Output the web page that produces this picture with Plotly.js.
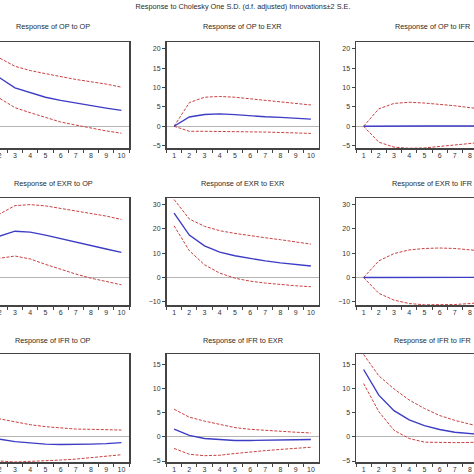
<!DOCTYPE html>
<html>
<head>
<meta charset="utf-8">
<script src="https://cdn.plot.ly/plotly-3.0.1.min.js"></script>
<style>
html,body{margin:0;padding:0;width:474px;height:474px;overflow:hidden;background:#fff;}
#chart{position:absolute;left:-40px;top:0;width:560px;height:474px;}
</style>
</head>
<body>
<div id="chart"></div>
<script>
// ---- data ----
const periods = ['1','2','3','4','5','6','7','8','9','10'];

const opOpResp  = [11.5, 12.5, 9.9, 8.6, 7.5, 6.7, 6.0, 5.3, 4.7, 4.1];
const opOpUpper = [13.4, 17.6, 15.5, 14.4, 13.6, 12.8, 12.1, 11.5, 10.9, 10.1];
const opOpLower = [9.6, 7.3, 4.8, 3.5, 2.2, 1.1, 0.3, -0.5, -1.2, -1.8];

const opExrResp  = [0, 2.4, 3.05, 3.2, 3.0, 2.7, 2.45, 2.3, 2.0, 1.85];
const opExrUpper = [0, 6.1, 7.5, 7.7, 7.5, 7.1, 6.7, 6.35, 5.9, 5.5];
const opExrLower = [0, -1.3, -1.3, -1.3, -1.35, -1.45, -1.5, -1.6, -1.7, -1.85];

const opIfrResp  = [0, 0.05, 0.05, 0.05, 0.05, 0.05, 0.05, 0.05, 0.05, 0.05];
const opIfrUpper = [0, 4.5, 5.9, 6.2, 6.0, 5.7, 5.3, 4.8, 4.4, 4.0];
const opIfrLower = [0, -4.1, -5.4, -5.7, -5.6, -5.25, -4.9, -4.5, -4.1, -3.7];

const exrOpResp  = [11.0, 17.0, 19.0, 18.6, 17.4, 15.9, 14.4, 13.1, 11.7, 10.3];
const exrOpUpper = [16.0, 26.1, 29.5, 29.9, 29.4, 28.4, 27.5, 26.4, 25.2, 23.8];
const exrOpLower = [6.0, 7.9, 8.8, 7.6, 5.4, 3.3, 1.4, -0.3, -1.6, -3.0];

const exrExrResp  = [26.4, 17.4, 13.0, 10.4, 8.9, 7.8, 6.8, 6.0, 5.3, 4.7];
const exrExrUpper = [32.0, 24.0, 21.0, 19.2, 18.1, 17.1, 16.3, 15.5, 14.7, 13.7];
const exrExrLower = [21.2, 11.0, 5.2, 1.8, -0.3, -1.5, -2.3, -3.0, -3.4, -3.8];

const exrIfrResp  = [0, 0.05, 0.05, 0.05, 0.05, 0.05, 0.05, 0.05, 0.05, 0.05];
const exrIfrUpper = [0, 6.8, 9.8, 11.3, 11.9, 12.1, 11.9, 11.4, 10.8, 10.2];
const exrIfrLower = [0, -6.5, -9.3, -10.7, -11.2, -11.3, -11.1, -10.7, -10.2, -9.6];

const ifrOpResp  = [0.3, -0.5, -1.0, -1.3, -1.5, -1.6, -1.6, -1.5, -1.4, -1.2];
const ifrOpUpper = [4.0, 3.7, 3.1, 2.5, 2.1, 1.8, 1.6, 1.55, 1.5, 1.4];
const ifrOpLower = [-3.4, -5.0, -5.2, -5.1, -5.0, -4.8, -4.6, -4.35, -4.1, -3.7];

const ifrExrResp  = [1.6, 0.3, -0.35, -0.6, -0.75, -0.75, -0.75, -0.7, -0.6, -0.55];
const ifrExrUpper = [5.7, 4.05, 3.25, 2.5, 1.9, 1.55, 1.3, 1.1, 0.95, 0.8];
const ifrExrLower = [-2.4, -3.6, -3.9, -3.8, -3.45, -3.1, -2.85, -2.6, -2.35, -2.15];

const ifrIfrResp  = [13.9, 8.6, 5.4, 3.5, 2.3, 1.5, 0.95, 0.6, 0.4, 0.3];
const ifrIfrUpper = [17.0, 12.6, 9.9, 7.6, 5.85, 4.4, 3.4, 2.6, 2.0, 1.5];
const ifrIfrLower = [11.0, 5.2, 1.35, -0.35, -1.1, -1.2, -1.2, -1.15, -1.1, -1.0];

const panelTitles = [
  'Response of OP to OP','Response of OP to EXR','Response of OP to IFR',
  'Response of EXR to OP','Response of EXR to EXR','Response of EXR to IFR',
  'Response of IFR to OP','Response of IFR to EXR','Response of IFR to IFR'
];
const mainTitle = 'Response to Cholesky One S.D. (d.f. adjusted) Innovations\u00b12 S.E.';

// ---- build ----
const panels = [
  [opOpResp, opOpUpper, opOpLower], [opExrResp, opExrUpper, opExrLower], [opIfrResp, opIfrUpper, opIfrLower],
  [exrOpResp, exrOpUpper, exrOpLower], [exrExrResp, exrExrUpper, exrExrLower], [exrIfrResp, exrIfrUpper, exrIfrLower],
  [ifrOpResp, ifrOpUpper, ifrOpLower], [ifrExrResp, ifrExrUpper, ifrExrLower], [ifrIfrResp, ifrIfrUpper, ifrIfrLower]
];

const W = 560, H = 474, OFF = 40;
const colPx = [[-23, 129], [166.5, 318.5], [356, 508]];
const rowPx = [[42.3, 148.3], [198.3, 305], [354, 462]];
const rowRange = [[-5.7, 21.7], [-11.3, 32.5], [-5.2, 17.1]];
const rowDtick = [5, 10, 5];

const traces = [];
const layout = {
  width: W, height: H,
  margin: {l: 0, r: 0, t: 0, b: 0},
  paper_bgcolor: '#fff', plot_bgcolor: '#fff',
  showlegend: false,
  font: {family: 'Liberation Sans, Arial, sans-serif', size: 7, color: '#333'},
  title: {
    text: mainTitle, font: {size: 7.3, color: '#2a2a2a'},
    x: (243 + OFF) / W, xref: 'paper', xanchor: 'center',
    y: 1 - 6 / H, yref: 'container', yanchor: 'middle'
  },
  annotations: []
};

const redDash = {color: '#c94040', width: 1, dash: '3px,1.5px'};
const blue = {color: '#3c3cc4', width: 1.4};

panels.forEach((p, i) => {
  const r = Math.floor(i / 3), c = i % 3;
  const n = i + 1;
  const xa = 'x' + (n === 1 ? '' : n), ya = 'y' + (n === 1 ? '' : n);
  const xk = 'xaxis' + (n === 1 ? '' : n), yk = 'yaxis' + (n === 1 ? '' : n);
  traces.push({x: periods, y: p[1], xaxis: xa, yaxis: ya, mode: 'lines', line: redDash, hoverinfo: 'skip'});
  traces.push({x: periods, y: p[2], xaxis: xa, yaxis: ya, mode: 'lines', line: redDash, hoverinfo: 'skip'});
  traces.push({x: periods, y: p[0], xaxis: xa, yaxis: ya, mode: 'lines', line: blue, hoverinfo: 'skip'});
  const xd = [(colPx[c][0] + OFF) / W, (colPx[c][1] + OFF) / W];
  const yd = [1 - rowPx[r][1] / H, 1 - rowPx[r][0] / H];
  layout[xk] = {
    domain: xd, anchor: ya, type: 'category', range: [-0.5, 9.5],
    tickson: 'boundaries', ticks: 'outside', ticklen: 3, tickwidth: 1, tickcolor: '#444',
    tickangle: 0,
    showline: true, mirror: true, linecolor: '#444', linewidth: 1.5,
    showgrid: false, zeroline: false, fixedrange: true,
    tickfont: {size: 7, color: '#333'}
  };
  layout[yk] = {
    domain: yd, anchor: xa, range: rowRange[r], dtick: rowDtick[r], tick0: 0,
    ticks: 'outside', ticklen: 3, tickwidth: 1, tickcolor: '#444',
    showline: true, mirror: true, linecolor: '#444', linewidth: 1.5,
    showgrid: false, zeroline: true, zerolinecolor: '#b5b5b5', zerolinewidth: 1,
    fixedrange: true, tickfont: {size: 7, color: '#333'}
  };
  layout.annotations.push({
    text: panelTitles[i], xref: 'paper', yref: 'paper',
    x: (xd[0] + xd[1]) / 2, y: 1 - [27, 183, 340][r] / H,
    xanchor: 'center', yanchor: 'middle', showarrow: false,
    font: {size: 7.3, color: '#2a2a2a'}
  });
});

Plotly.newPlot('chart', traces, layout, {displayModeBar: false, staticPlot: true});
</script>
</body>
</html>
